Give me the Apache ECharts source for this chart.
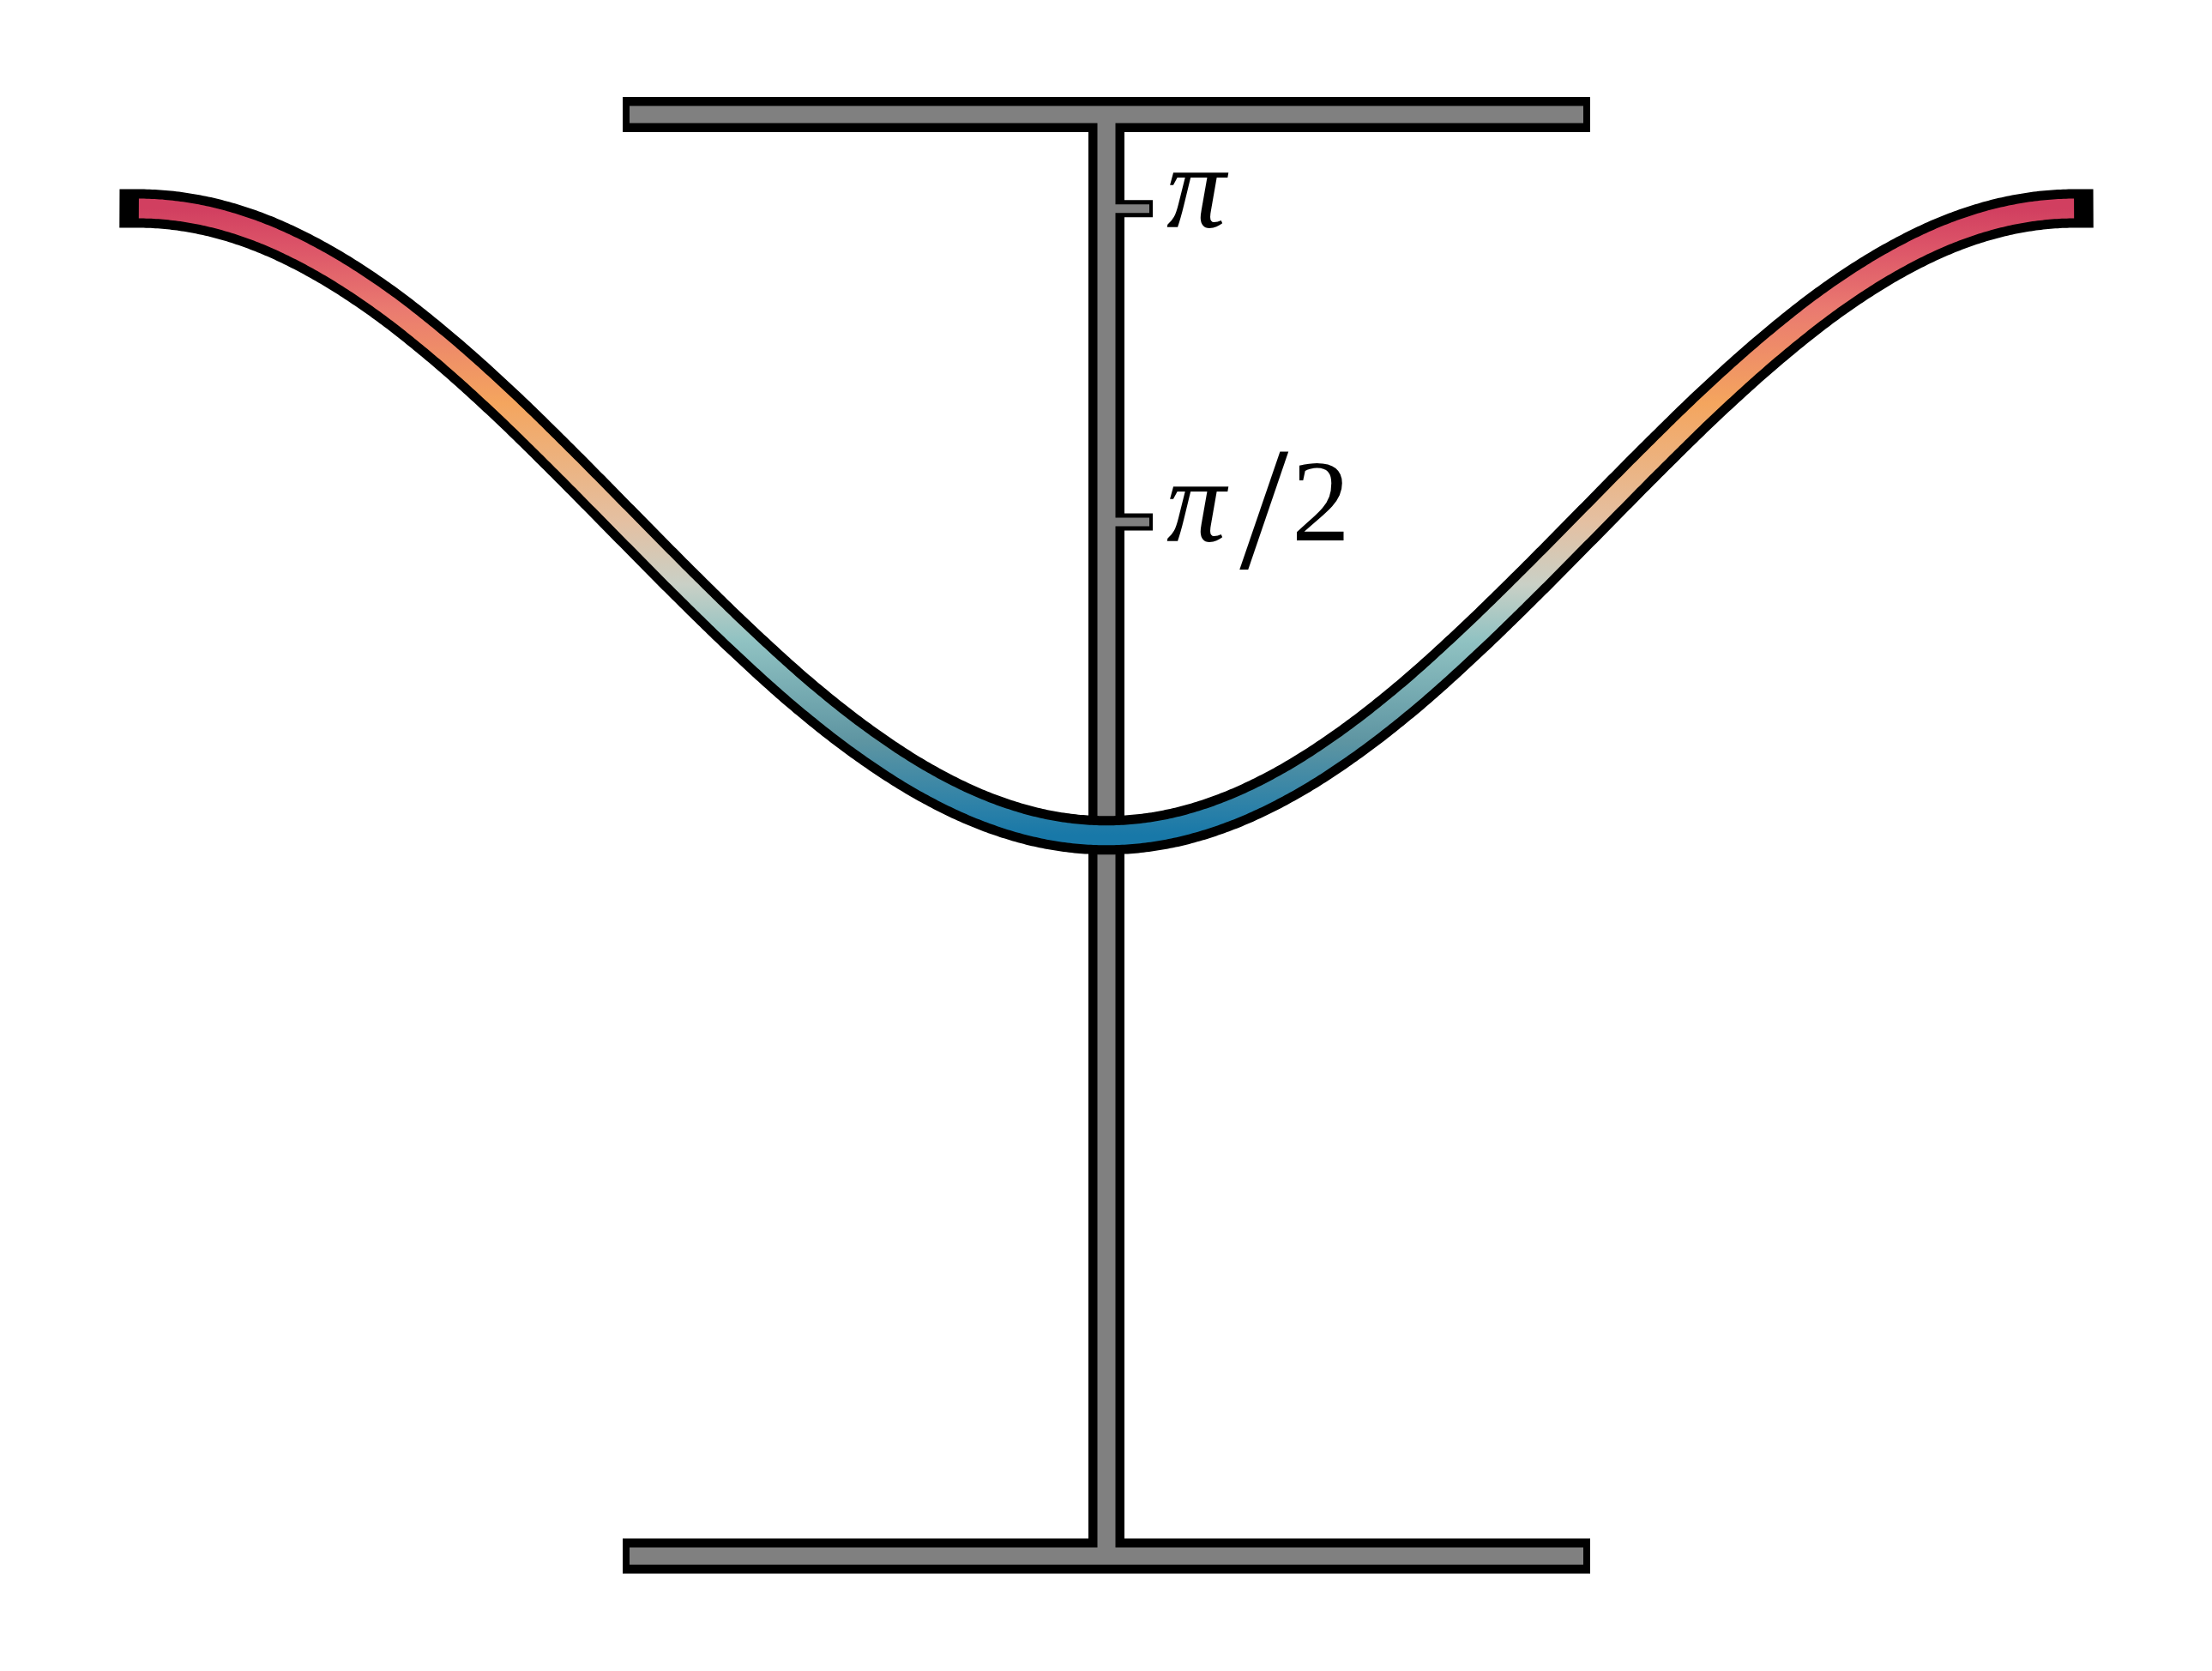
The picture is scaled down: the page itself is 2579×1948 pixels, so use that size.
<!DOCTYPE html>
<html>
<head>
<meta charset="utf-8">
<script src="https://cdn.jsdelivr.net/npm/echarts@6/dist/echarts.min.js"></script>
<style>
html,body{margin:0;padding:0;background:#fff;}
#chart{width:2579px;height:1948px;}
</style>
</head>
<body>
<div id="chart"></div>
<script>
// ---- data ----
const xValues = [-3.142,-2.945,-2.749,-2.553,-2.356,-2.160,-1.963,-1.767,-1.571,-1.374,-1.178,-0.982,-0.785,-0.589,-0.393,-0.196,0,
                 0.196,0.393,0.589,0.785,0.982,1.178,1.374,1.571,1.767,1.963,2.160,2.356,2.553,2.749,2.945,3.142];
const yValues = [3.142,3.111,3.022,2.877,2.682,2.444,2.172,1.877,1.571,1.264,0.970,0.698,0.460,0.265,0.120,0.030,0,
                 0.030,0.120,0.265,0.460,0.698,0.970,1.264,1.571,1.877,2.172,2.444,2.682,2.877,3.022,3.111,3.142];
const yTickValues = [1.5708, 3.1416];
const yTickLabels = ['π/2', 'π'];
const yLimits = [-3.613, 3.613];
const xLimits = [-3.1416, 3.1416];
const barSpan = [-1.5708, 1.5708];
const colorRange = [0, 3.1416]; // value range mapped by the colour gradient

const curveData = xValues.map((x, i) => [x, yValues[i]]);

const chart = echarts.init(document.getElementById('chart'), null, {renderer: 'canvas'});

function renderFrame(params, api) {
  const cx = api.coord([0, 0])[0];
  const top = api.coord([0, yLimits[1]])[1];
  const bot = api.coord([0, yLimits[0]])[1];
  const xl = api.coord([barSpan[0], 0])[0];
  const xr = api.coord([barSpan[1], 0])[0];
  const black = {fill: '#000'};
  const grey = {fill: '#808080'};
  const children = [];
  // black outline layer
  children.push({type: 'rect', shape: {x: xl, y: top - 20.5, width: xr - xl, height: 41}, style: black});
  children.push({type: 'rect', shape: {x: xl, y: bot - 20.5, width: xr - xl, height: 41}, style: black});
  children.push({type: 'rect', shape: {x: cx - 21, y: top, width: 42, height: bot - top}, style: black});
  yTickValues.forEach(v => {
    const ty = api.coord([0, v])[1];
    children.push({type: 'rect', shape: {x: cx, y: ty - 10, width: 54, height: 20}, style: black});
  });
  // grey layer
  children.push({type: 'rect', shape: {x: xl + 8, y: top - 10, width: xr - xl - 16, height: 20}, style: grey});
  children.push({type: 'rect', shape: {x: xl + 8, y: bot - 10, width: xr - xl - 16, height: 20}, style: grey});
  children.push({type: 'rect', shape: {x: cx - 10.5, y: top, width: 21, height: bot - top}, style: grey});
  yTickValues.forEach(v => {
    const ty = api.coord([0, v])[1];
    children.push({type: 'rect', shape: {x: cx, y: ty - 5, width: 50, height: 10}, style: grey});
  });
  // tick labels
  yTickValues.forEach((v, i) => {
    const ty = api.coord([0, v])[1];
    const lab = yTickLabels[i];
    const parts = lab.split('/');
    let txt = '{p|' + parts[0] + '}';
    if (parts.length > 1) txt += '{s|/}{n|' + parts[1] + '}';
    children.push({
      type: 'text',
      style: {
        x: cx + 70, y: ty - 14,
        text: txt,
        verticalAlign: 'middle', align: 'left',
        rich: {
          p: {fontFamily: 'Liberation Serif', fontStyle: 'italic', fontSize: 138, fill: '#000', verticalAlign: 'middle'},
          s: {fontFamily: 'Liberation Serif', fontSize: 205, fill: '#000', verticalAlign: 'middle', padding: [28, 0, 0, 16]},
          n: {fontFamily: 'Liberation Serif', fontSize: 136, fill: '#000', verticalAlign: 'middle', padding: [0, 0, 0, 4]}
        }
      }
    });
  });
  return {type: 'group', children: children};
}

// Catmull-Rom rendering of the data points in pixel space
function renderCurve(params, api) {
  const P = curveData.map(d => api.coord(d));
  const n = P.length;
  const pts = [];
  const get = (i) => {
    if (i < 0) { const a = P[0], b = P[1]; return [2 * a[0] - b[0], b[1]]; }
    if (i >= n) { const a = P[n - 1], b = P[n - 2]; return [2 * a[0] - b[0], b[1]]; }
    return P[i];
  };
  const steps = 24;
  for (let i = 0; i < n - 1; i++) {
    const p0 = get(i - 1), p1 = get(i), p2 = get(i + 1), p3 = get(i + 2);
    for (let s = 0; s < steps; s++) {
      const t = s / steps, t2 = t * t, t3 = t2 * t;
      const pt = [0, 1].map(k => 0.5 * (2 * p1[k] + (-p0[k] + p2[k]) * t +
        (2 * p0[k] - 5 * p1[k] + 4 * p2[k] - p3[k]) * t2 +
        (-p0[k] + 3 * p1[k] - 3 * p2[k] + p3[k]) * t3));
      pts.push(pt);
    }
  }
  pts.push(P[n - 1]);
  const yTop = api.coord([0, colorRange[1]])[1];
  const yBot = api.coord([0, colorRange[0]])[1];
  const grad = new echarts.graphic.LinearGradient(0, yTop, 0, yBot, [
    {offset: 0.00, color: '#d13f60'},
    {offset: 0.06, color: '#dc5468'},
    {offset: 0.16, color: '#ea7a70'},
    {offset: 0.31, color: '#f4a55e'},
    {offset: 0.50, color: '#e4c0a2'},
    {offset: 0.60, color: '#c9d0c6'},
    {offset: 0.69, color: '#90c2c2'},
    {offset: 0.85, color: '#5e95a2'},
    {offset: 0.96, color: '#2a80a8'},
    {offset: 1.00, color: '#1878a8'}
  ], true);
  return {
    type: 'group',
    children: [
      {type: 'polyline', shape: {points: pts}, style: {stroke: '#000', lineWidth: 45, fill: null, lineCap: 'square', lineJoin: 'round'}},
      {type: 'polyline', shape: {points: pts}, style: {stroke: grad, lineWidth: 23, fill: null, lineCap: 'butt', lineJoin: 'round'}}
    ]
  };
}

const option = {
  animation: false,
  backgroundColor: '#ffffff',
  grid: {left: 162, right: 161, top: 133.5, bottom: 134, containLabel: false},
  xAxis: {type: 'value', min: xLimits[0], max: xLimits[1], show: false},
  yAxis: {type: 'value', min: yLimits[0], max: yLimits[1], show: false},
  series: [
    {
      type: 'custom', z: 1, clip: false,
      renderItem: renderFrame,
      data: [[0, 0]],
      silent: true
    },
    {
      type: 'custom', z: 2, clip: false,
      renderItem: renderCurve,
      data: [[0, 0]],
      silent: true
    }
  ]
};
chart.setOption(option);
</script>
</body>
</html>
